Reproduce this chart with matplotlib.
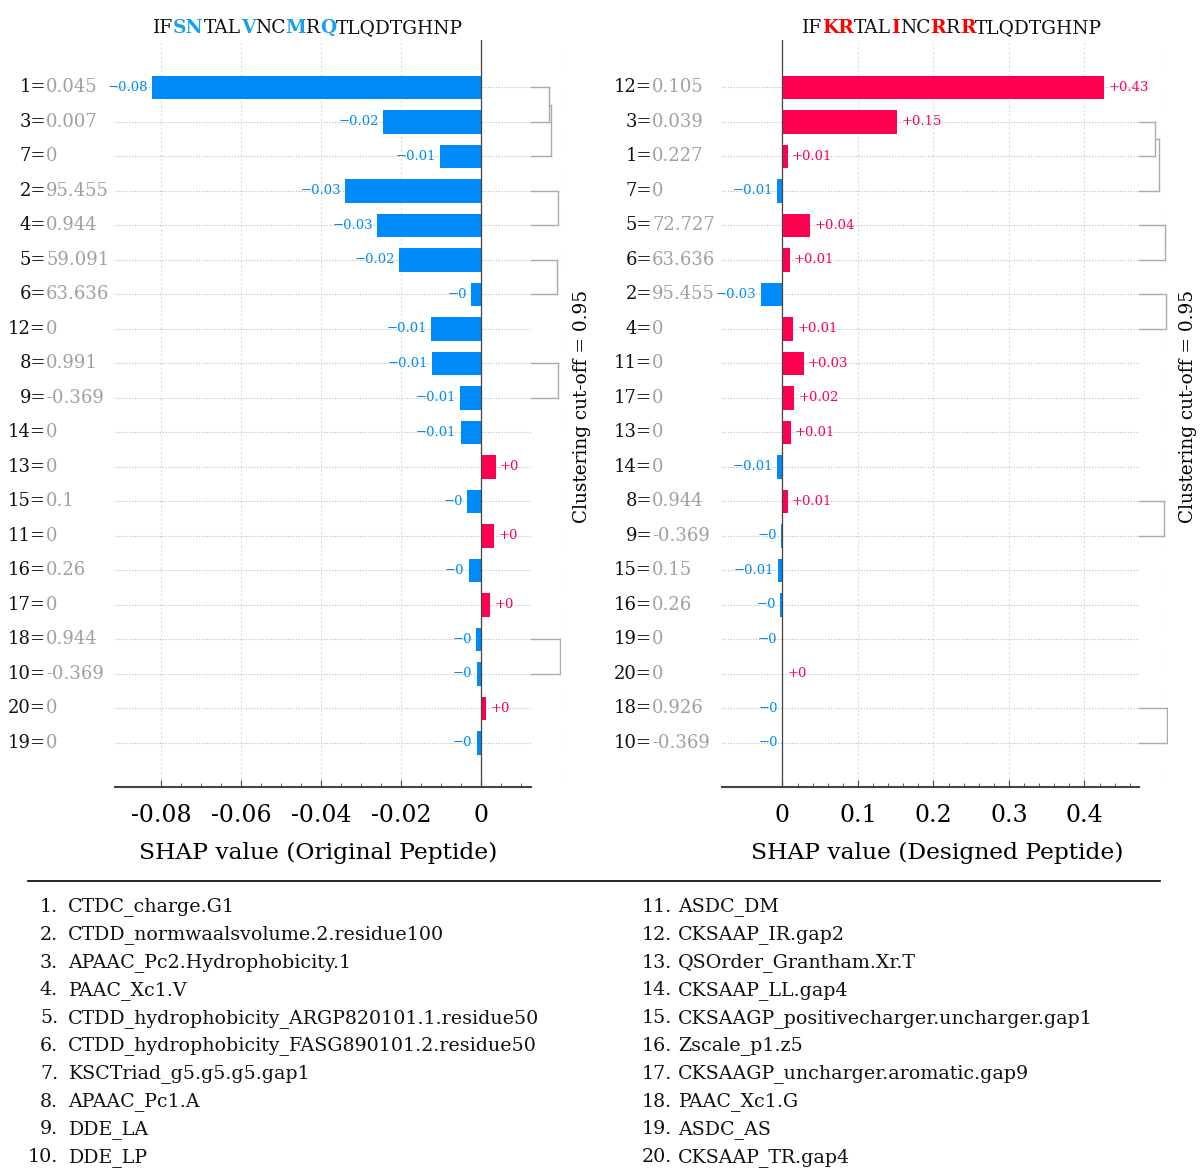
import numpy as np
import matplotlib
matplotlib.use("Agg")
import matplotlib.pyplot as plt
from matplotlib import transforms
from matplotlib.lines import Line2D

plt.rcParams['font.family'] = ['DejaVu Serif']
plt.rcParams['axes.unicode_minus'] = False

# ---- data ----
left_ids = ["1", "3", "7", "2", "4", "5", "6", "12", "8", "9",
            "14", "13", "15", "11", "16", "17", "18", "10", "20", "19"]
left_vals = ["0.045", "0.007", "0", "95.455", "0.944", "59.091", "63.636", "0", "0.991", "-0.369",
             "0", "0", "0.1", "0", "0.26", "0", "0.944", "-0.369", "0", "0"]
left_shap = [-0.0823, -0.0245, -0.0103, -0.034, -0.026, -0.0205, -0.0025, -0.0125, -0.0122, -0.0052,
             -0.0051, 0.0037, -0.0035, 0.0033, -0.0031, 0.0023, -0.0013, -0.0011, 0.0013, -0.0011]
# merges: (name, child a, child b, distance as fraction of cut-off)
left_merges = [("A", 0, 1, 0.60), ("B", "A", 2, 0.67), ("C", 3, 4, 0.90),
               ("D", 5, 6, 0.87), ("E", 8, 9, 0.90), ("F", 16, 17, 0.97)]

right_ids = ["12", "3", "1", "7", "5", "6", "2", "4", "11", "17",
             "13", "14", "8", "9", "15", "16", "19", "20", "18", "10"]
right_vals = ["0.105", "0.039", "0.227", "0", "72.727", "63.636", "95.455", "0", "0", "0",
              "0", "0", "0.944", "-0.369", "0.15", "0.26", "0", "0", "0.926", "-0.369"]
right_shap = [0.426, 0.152, 0.0072, -0.0066, 0.037, 0.0095, -0.0287, 0.0146, 0.028, 0.0157,
              0.011, -0.0066, 0.007, -0.0015, -0.0052, -0.0027, -0.001, 0.0008, -0.0003, -0.0003]
right_merges = [("A", 1, 2, 0.58), ("B", "A", 3, 0.70), ("C", 4, 5, 0.92),
                ("D", 6, 7, 0.96), ("E", 12, 13, 0.89), ("F", 18, 19, 0.98)]

left_seq = [("IF", 0), ("SN", 1), ("TAL", 0), ("V", 1), ("NC", 0), ("M", 1), ("R", 0), ("Q", 1), ("TLQDTGHNP", 0)]
right_seq = [("IF", 0), ("KR", 1), ("TAL", 0), ("I", 1), ("NC", 0), ("R", 1), ("R", 0), ("R", 1), ("TLQDTGHNP", 0)]

left_ticks = [-0.08, -0.06, -0.04, -0.02, 0]
left_ticklabels = ["-0.08", "-0.06", "-0.04", "-0.02", "0"]
right_ticks = [0, 0.1, 0.2, 0.3, 0.4]
right_ticklabels = ["0", "0.1", "0.2", "0.3", "0.4"]

feature_names = ["CTDC_charge.G1", "CTDD_normwaalsvolume.2.residue100", "APAAC_Pc2.Hydrophobicity.1",
                 "PAAC_Xc1.V", "CTDD_hydrophobicity_ARGP820101.1.residue50",
                 "CTDD_hydrophobicity_FASG890101.2.residue50", "KSCTriad_g5.g5.g5.gap1", "APAAC_Pc1.A",
                 "DDE_LA", "DDE_LP", "ASDC_DM", "CKSAAP_IR.gap2", "QSOrder_Grantham.Xr.T", "CKSAAP_LL.gap4",
                 "CKSAAGP_positivecharger.uncharger.gap1", "Zscale_p1.z5", "CKSAAGP_uncharger.aromatic.gap9",
                 "PAAC_Xc1.G", "ASDC_AS", "CKSAAP_TR.gap4"]

BLUE = "#008bfb"
RED = "#ff0051"
W, H = 1201, 1168

fig = plt.figure(figsize=(W / 100, H / 100), dpi=100)


def fmt(v):
    s = "%+0.02f" % v
    s = s.rstrip("0").rstrip(".")
    return s.replace("-", "\u2212")


def panel(rect, ids, vals, shap, merges, xlim, leaf_start, ticks, ticklabels, minor_step,
          split_px, xlabel, xlabel_px, cut_px):
    ax = fig.add_axes(rect)
    n = len(ids)
    rows = np.arange(n)
    ax.set_xlim(*xlim)
    ax.set_ylim(n - 1 + 1.28, -1.37)

    for t in ticks:
        ax.axvline(t, color="#dddddd", lw=0.8, ls=(0, (2, 2)), zorder=0)
    ax.axvline(xlim[1], color="#dddddd", lw=0.8, ls=(0, (2, 2)), zorder=0)
    ax.hlines(rows, xlim[0], leaf_start, colors="#bbbbbb", lw=0.8, linestyles=(0, (1, 1.5)), zorder=0.5)
    ax.axvline(0, color="#444444", lw=0.9, zorder=3)

    colors = [RED if v > 0 else BLUE for v in shap]
    ax.barh(rows, shap, height=0.68, color=colors, zorder=2)
    for r, v in zip(rows, shap):
        ax.annotate(fmt(v), (v, r), xytext=(3 if v > 0 else -3, 0), textcoords="offset points",
                    ha="left" if v > 0 else "right", va="center", fontsize=9.5,
                    color=RED if v > 0 else BLUE, zorder=4)

    # row labels "N=value"
    tr = transforms.blended_transform_factory(fig.transFigure, ax.transData)
    for r, i, val in zip(rows, ids, vals):
        ax.text(split_px / W, r, i + "=", transform=tr, ha="right", va="center", fontsize=13, color="#111111")
        ax.text(split_px / W, r, val, transform=tr, ha="left", va="center", fontsize=13, color="#a0a0a0")

    # dendrogram
    span = xlim[1] - leaf_start
    nodes = {}
    for name, a, b, d in merges:
        xd = leaf_start + d * span
        ys = []
        for c in (a, b):
            if isinstance(c, str):
                yc, xc = nodes[c]
            else:
                yc, xc = c, leaf_start
            ax.plot([xc, xd], [yc, yc], color="#aaaaaa", lw=1, zorder=1)
            ys.append(yc)
        ax.plot([xd, xd], ys, color="#aaaaaa", lw=1, zorder=1)
        nodes[name] = (np.mean(ys), xd)

    for s in ["left", "top", "right"]:
        ax.spines[s].set_visible(False)
    ax.spines["bottom"].set_bounds(xlim[0], leaf_start)
    ax.spines["bottom"].set_color("#444444")
    ax.spines["bottom"].set_linewidth(1.5)
    ax.set_yticks([])
    ax.set_xticks(ticks, labels=ticklabels)
    ax.set_xticks(np.arange(ticks[0], leaf_start, minor_step), minor=True)
    ax.tick_params(axis="x", which="major", direction="in", length=5, color="#444444", pad=12,
                   labelsize=17)
    ax.tick_params(axis="x", which="minor", direction="in", length=3, color="#444444")

    fig.text(xlabel_px / W, 1 - 853 / H, xlabel, ha="center", va="center", fontsize=16.8)
    fig.text(cut_px / W, 1 - 406 / H, "Clustering cut-off = 0.95", rotation=90, ha="center",
             va="center", fontsize=13.3)
    return ax


panel([115 / W, 1 - 787 / H, (561 - 115) / W, (787 - 40) / H], left_ids, left_vals, left_shap,
      left_merges, (-0.0915, 0.0200), 0.0125, left_ticks, left_ticklabels, 0.005,
      46, "SHAP value (Original Peptide)", 318, 582)
panel([722 / W, 1 - 787 / H, (1167.5 - 722) / W, (787 - 40) / H], right_ids, right_vals, right_shap,
      right_merges, (-0.08, 0.51), 0.472, right_ticks, right_ticklabels, 0.02,
      652, "SHAP value (Designed Peptide)", 937, 1188)


# sequence titles with highlighted residues
def seq_title(parts, hl):
    texts = []
    t = None
    for s, flag in parts:
        kw = dict(fontsize=13.4, color=hl if flag else "#111111",
                  fontweight="bold" if flag else "normal")
        if t is None:
            t = fig.text(0.5, 1 - 28 / H, s, ha="left", va="center", **kw)
        else:
            t = plt.annotate(s, xy=(1, 0), xycoords=t, ha="left", va="bottom",
                             annotation_clip=False, **kw)
        texts.append(t)
    return texts


lt = seq_title(left_seq, "#1aa0e6")
rt = seq_title(right_seq, "#ff0000")

# legend rule and list
fig.add_artist(Line2D([28 / W, 1160 / W], [1 - 881 / H] * 2, color="black", lw=1.2))
for k, name in enumerate(feature_names):
    col, row = divmod(k, 10)
    y = 1 - (907 + row * 27.8) / H
    nx = 58 if col == 0 else 672
    tx = 68 if col == 0 else 678
    fig.text(nx / W, y, f"{k + 1}.", ha="right", va="center", fontsize=13.7, color="#111111")
    fig.text(tx / W, y, name, ha="left", va="center", fontsize=13.7, color="#111111")

# centre the sequence titles
fig.canvas.draw()
r = fig.canvas.get_renderer()
for texts, cx in ((lt, 308), (rt, 952)):
    x0 = texts[0].get_window_extent(r).x0
    x1 = texts[-1].get_window_extent(r).x1
    shift = cx - (x0 + x1) / 2
    texts[0].set_x(texts[0].get_position()[0] + shift / W)

fig.savefig("out.png", dpi=100)
